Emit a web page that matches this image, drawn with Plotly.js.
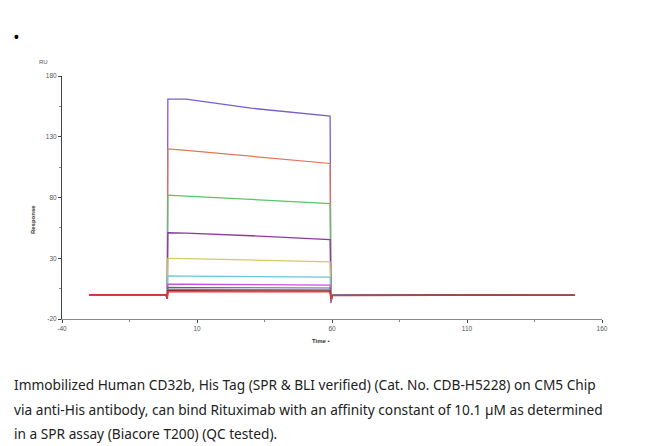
<!DOCTYPE html>
<html>
<head>
<meta charset="utf-8">
<script src="https://cdn.plot.ly/plotly-3.0.1.min.js"></script>
<style>
html,body{margin:0;padding:0;background:#fff;}
#chart{width:650px;height:446px;}
</style>
</head>
<body>
<div id="chart"></div>
<script>
// Time points (s) shared by all sensorgram curves
var time = [-30, -1.5, -1, -0.8, 6, 30, 59.3, 59.6, 60.2, 100, 150];

// Response (RU) for each concentration
var sPurple  = [0, 0, -3, 161, 161, 153.5, 147, -7, -0.6, -0.4, -0.5];
var sOrange  = [0, 0, -3, 120, 118.8, 114, 108, -6, -0.6, -0.4, -0.5];
var sGreen   = [0, 0, -3, 82, 81.2, 78.5, 75, -5, -0.6, -0.4, -0.5];
var sMagenta = [0, 0, -3, 51, 50.6, 48.5, 45.3, -5, -0.6, -0.4, -0.5];
var sYellow  = [0, 0, -3, 30, 29.7, 28.6, 27, -4, -0.6, -0.4, -0.5];
var sCyan    = [0, 0, -3, 15.5, 15.3, 15, 14.4, -4, -0.6, -0.4, -0.5];
var sPink    = [0, 0, -3, 8.7, 8.6, 8.3, 7.9, -4, -0.6, -0.4, -0.5];
var sBlue    = [0, 0, -3, 6, 5.9, 5.7, 5.5, -3, -0.6, -0.4, -0.5];
var sGrey    = [0, 0, -3, 4.5, 4.4, 4.2, 4, -3, -0.6, -0.4, -0.5];
var sDarkRed = [0, 0, -3, 3.2, 3.2, 3.1, 3, -3, -0.6, -0.4, -0.5];
var sRed     = [0, 0, -3, 2.3, 2.3, 2.2, 2.2, -3, -0.6, -0.4, -0.5];

var seriesList = [sPurple, sOrange, sGreen, sMagenta, sYellow, sCyan, sPink, sBlue, sGrey, sDarkRed, sRed];
var colors = ['#7b5cd0', '#e0765a', '#5cc468', '#8a3c9c', '#d8c864', '#66c8dc', '#cc50d8', '#5a5ab8', '#6a8a7a', '#9a2a2a', '#e23a3a'];
var widths = [1.3, 1.2, 1.2, 1.3, 1.2, 1.2, 1.3, 1.2, 1.2, 1.6, 1.1];

var xTicks = [-40, 10, 60, 110, 160];
var yTicks = [-20, 30, 80, 130, 180];

var traces = seriesList.map(function(s, i){
  return {x: time, y: s, type: 'scatter', mode: 'lines',
    line: {color: colors[i], width: widths[i]}, hoverinfo: 'skip', showlegend: false};
});

var caption = [
  'Immobilized Human CD32b, His Tag (SPR &amp; BLI verified) (Cat. No. CDB-H5228) on CM5 Chip',
  'via anti-His antibody, can bind Rituximab with an affinity constant of 10.1 \u00b5M as determined',
  'in a SPR assay (Biacore T200) (QC tested).'
];
var capShift = [-65, -90, -114];

var annotations = caption.map(function(t, i){
  return {text: t, xref: 'paper', yref: 'paper', x: 0, y: 0, xshift: -50, yshift: capShift[i],
    xanchor: 'left', yanchor: 'middle', showarrow: false,
    font: {family: 'Noto Sans, Liberation Sans, sans-serif', size: 13.7, color: '#222'}};
});
annotations.push({text: '\u2022', xref: 'paper', yref: 'paper', x: 0, y: 1, xshift: -46, yshift: 39,
  xanchor: 'center', yanchor: 'middle', showarrow: false, font: {size: 18, color: '#000'}});
annotations.push({text: 'RU', xref: 'paper', yref: 'paper', x: 0, y: 1, xshift: -19, yshift: 14,
  xanchor: 'center', yanchor: 'middle', showarrow: false, font: {family: 'Liberation Sans', size: 6, color: '#555'}});
annotations.push({text: '<b>Response</b>', xref: 'paper', yref: 'paper', x: 0, y: 0.407, xshift: -29,
  xanchor: 'center', yanchor: 'middle', textangle: -90, showarrow: false, font: {family: 'Liberation Sans', size: 6, color: '#333'}});
annotations.push({text: '<b>Time</b> \u2022', xref: 'x', yref: 'paper', x: 56, y: 0, yshift: -22,
  xanchor: 'center', yanchor: 'middle', showarrow: false, font: {family: 'Liberation Sans', size: 6, color: '#333'}});
annotations.push({text: '\u2022', xref: 'x', yref: 'paper', x: 162.2, y: 0, yshift: -22,
  xanchor: 'center', yanchor: 'middle', showarrow: false, font: {size: 7, color: '#333'}});

var axisCommon = {showgrid: false, zeroline: false, showline: true, linewidth: 1,
  ticks: 'outside', ticklen: 3, tickcolor: '#444',
  tickfont: {family: 'Liberation Sans', size: 6.5, color: '#555'}};

var layout = {
  width: 650, height: 446,
  margin: {l: 62, r: 48, t: 76, b: 127},
  paper_bgcolor: '#fff', plot_bgcolor: '#fff',
  showlegend: false,
  xaxis: Object.assign({}, axisCommon, {range: [-40, 160], tickvals: xTicks, ticktext: xTicks.map(String),
    linecolor: '#888', minor: {ticks: 'outside', ticklen: 2, tickcolor: '#888', tickvals: [-15, 35, 85, 135]}}),
  yaxis: Object.assign({}, axisCommon, {range: [-20, 180], tickvals: yTicks, ticktext: yTicks.map(String),
    linecolor: '#444', minor: {ticks: 'outside', ticklen: 2, tickcolor: '#888', tickvals: [5, 55, 105, 155]}}),
  annotations: annotations
};

Plotly.newPlot('chart', traces, layout, {displayModeBar: false, staticPlot: true});
</script>
</body>
</html>
